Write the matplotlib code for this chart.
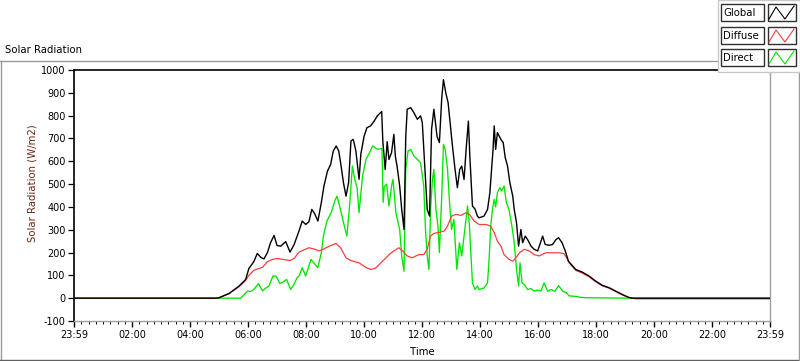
import matplotlib
matplotlib.use("Agg")
import matplotlib.pyplot as plt
from matplotlib.lines import Line2D
from matplotlib.patches import Rectangle
import numpy as np

plt.rcParams['font.family'] = ['DejaVu Sans']

# ---------------- data (hours since 23:59, W/m2) ----------------
global_t = [0.0, 4.9, 5.0, 5.34, 5.69, 5.92, 6.03, 6.2, 6.32, 6.45, 6.55, 6.67, 6.78, 6.9, 7.0, 7.13,
            7.3, 7.45, 7.59, 7.76, 7.87, 7.99, 8.1, 8.2, 8.3, 8.41, 8.53, 8.62, 8.74, 8.85, 8.94,
            9.04, 9.13, 9.21, 9.29, 9.38, 9.47, 9.55, 9.63, 9.72, 9.83, 9.89, 10.0, 10.1, 10.23,
            10.35, 10.46, 10.61, 10.65, 10.73, 10.8, 10.86, 10.95, 11.03, 11.08, 11.14, 11.23,
            11.3, 11.38, 11.44, 11.49, 11.61, 11.72, 11.84, 11.95, 12.01, 12.1, 12.18, 12.26,
            12.33, 12.41, 12.52, 12.6, 12.68, 12.74, 12.82, 12.9, 12.97, 13.05, 13.14, 13.22,
            13.3, 13.37, 13.45, 13.53, 13.6, 13.65, 13.74, 13.83, 13.91, 13.97, 14.14, 14.26,
            14.34, 14.41, 14.45, 14.49, 14.54, 14.6, 14.72, 14.8, 14.87, 14.95, 15.03, 15.13,
            15.18, 15.26, 15.33, 15.41, 15.47, 15.56, 15.64, 15.76, 15.87, 15.99, 16.16, 16.25,
            16.39, 16.5, 16.62, 16.71, 16.83, 16.94, 17.05, 17.3, 17.53, 17.76, 17.99, 18.22,
            18.45, 18.68, 18.91, 19.14, 19.26, 24.0]
global_v = [0, 0, 2, 20, 53, 82, 130, 160, 196, 178, 172, 200, 244, 275, 231, 228,
            248, 202, 235, 295, 338, 323, 335, 389, 370, 338, 420, 492, 557, 586, 645,
            667, 645, 579, 507, 447, 507, 689, 696, 645, 521, 630, 708, 747, 755,
            776, 799, 818, 686, 564, 686, 608, 638, 718, 623, 579, 492,
            389, 301, 708, 828, 835, 813, 784, 799, 770, 564, 389, 360,
            740, 828, 708, 682, 876, 958, 900, 857, 770, 667, 564, 484,
            564, 579, 520, 667, 776, 620, 404, 390, 360, 352, 360, 389,
            462, 586, 652, 755, 652, 726, 696, 682, 616, 579, 506, 447,
            389, 330, 228, 301, 243, 272, 257, 228, 214, 207, 272, 235,
            232, 235, 257, 265, 243, 207, 162, 126, 114, 97, 75, 56,
            46, 31, 16, 3, 0, 0]

diffuse_t = [0.0, 4.9, 5.0, 5.34, 5.69, 5.92, 6.03, 6.2, 6.32, 6.5, 6.67, 6.85, 7.0, 7.2, 7.45,
             7.6, 7.76, 7.9, 8.1, 8.3, 8.45, 8.6, 8.8, 9.04, 9.2, 9.38, 9.5, 9.62, 9.83, 10.07,
             10.24, 10.4, 10.64, 10.87, 11.0, 11.2, 11.35, 11.49, 11.66, 11.89, 12.06, 12.18,
             12.29, 12.41, 12.58, 12.76, 12.88, 13.02, 13.17, 13.34, 13.51, 13.65, 13.8, 13.97,
             14.2, 14.37, 14.49, 14.6, 14.72, 14.83, 15.0, 15.13, 15.24, 15.36, 15.53, 15.7,
             15.87, 16.04, 16.27, 16.5, 16.73, 16.9, 17.02, 17.07, 17.3, 17.53, 17.76, 17.99,
             18.22, 18.45, 18.68, 18.91, 19.14, 19.4, 24.0]
diffuse_v = [0, 0, 2, 20, 50, 78, 100, 122, 128, 135, 160, 170, 174, 170, 165,
             175, 202, 210, 221, 215, 207, 215, 228, 240, 220, 177, 168, 162, 155, 134,
             126, 132, 162, 191, 205, 221, 205, 185, 177, 191, 191, 214,
             272, 284, 288, 294, 316, 360, 367, 363, 374, 365, 338, 323,
             323, 316, 287, 250, 228, 191, 170, 162, 177, 199, 214, 207,
             191, 185, 199, 199, 199, 195, 170, 156, 122, 110, 94, 72,
             54, 44, 29, 14, 2, -3, -3]

direct_t = [0.0, 5.0, 5.75, 5.98, 6.1, 6.2, 6.36, 6.5, 6.62, 6.72, 6.86, 6.97, 7.1, 7.2, 7.33,
            7.47, 7.58, 7.7, 7.76, 7.87, 7.99, 8.17, 8.3, 8.41, 8.53, 8.6, 8.72, 8.87, 8.99,
            9.07, 9.16, 9.28, 9.41, 9.5, 9.6, 9.68, 9.76, 9.83, 9.95, 10.07, 10.19, 10.3,
            10.47, 10.62, 10.66, 10.7, 10.78, 10.86, 10.95, 11.0, 11.1, 11.23, 11.3, 11.38,
            11.44, 11.52, 11.61, 11.72, 11.84, 11.95, 12.06, 12.12, 12.18, 12.24, 12.3, 12.36,
            12.41, 12.48, 12.55, 12.6, 12.68, 12.74, 12.8, 12.88, 12.95, 13.02, 13.1, 13.2,
            13.29, 13.37, 13.49, 13.57, 13.63, 13.69, 13.74, 13.83, 13.91, 13.97, 14.14, 14.26,
            14.32, 14.37, 14.43, 14.49, 14.54, 14.6, 14.68, 14.75, 14.83, 14.91, 15.0, 15.1,
            15.18, 15.26, 15.33, 15.38, 15.45, 15.53, 15.64, 15.76, 15.87, 15.99, 16.1, 16.21,
            16.33, 16.45, 16.58, 16.71, 16.85, 16.97, 17.08, 17.3, 17.5, 17.7, 19.2, 24.0]
direct_v = [0, 0, 0, 31, 30, 38, 64, 32, 45, 53, 97, 97, 64, 70, 82,
            38, 60, 91, 97, 134, 97, 170, 150, 134, 200, 272, 338, 375, 425,
            447, 404, 338, 272, 400, 579, 521, 484, 375, 535, 608, 638, 667,
            652, 656, 420, 488, 500, 404, 492, 521, 375, 301, 185, 118,
            564, 645, 652, 623, 608, 594, 492, 301, 185, 126, 400, 520,
            564, 389, 316, 200, 447, 674, 652, 564, 420, 301, 345, 126,
            243, 185, 316, 404, 330, 185, 67, 38, 53, 38, 45, 67,
            185, 316, 389, 433, 400, 462, 484, 470, 492, 418, 389, 316,
            243, 126, 53, 155, 67, 60, 38, 42, 31, 36, 31, 67,
            31, 38, 30, 55, 31, 24, 10, 8, 3, 2, 0, 0]

tick_hours = [0, 2, 4, 6, 8, 10, 12, 14, 16, 18, 20, 22, 24]
tick_labels = ["23:59", "02:00", "04:00", "06:00", "08:00", "10:00", "12:00",
               "14:00", "16:00", "18:00", "20:00", "22:00", "23:59"]
y_ticks = list(range(-100, 1001, 100))
series_names = ["Global", "Diffuse", "Direct"]
series_colors = ["#000000", "#ff3c3c", "#00e600"]

# ---------------- figure ----------------
W, H = 800, 361
fig = plt.figure(figsize=(W / 100, H / 100), dpi=100)
fig.patch.set_facecolor("white")

def fx(px):
    return px / W

def fy(py):
    return 1 - py / H

ax = fig.add_axes([fx(74), fy(321), fx(770) - fx(74), fy(70) - fy(321)])
ax.plot(direct_t, direct_v, color=series_colors[2], lw=0.95, zorder=2)
ax.plot(diffuse_t, diffuse_v, color=series_colors[1], lw=0.9, zorder=3)
ax.plot(global_t, global_v, color=series_colors[0], lw=1.0, zorder=4)

ax.set_xlim(0, 24)
ax.set_ylim(-100, 1000)
ax.set_yticks(y_ticks)
ax.set_yticklabels([str(v) for v in y_ticks], fontsize=7)
ax.set_xticks(tick_hours)
ax.set_xticklabels(tick_labels, fontsize=7)
ax.set_xticks(np.arange(0, 24.01, 0.25), minor=True)
ax.tick_params(axis='y', direction='out', length=4, width=0.9, pad=2, colors='black')
ax.tick_params(axis='x', which='major', direction='out', length=4, width=1.0, pad=2.5)
ax.tick_params(axis='x', which='minor', direction='out', length=2.5, width=0.7)

for s in ['top', 'left']:
    ax.spines[s].set_color('black')
    ax.spines[s].set_linewidth(1.2)
for s in ['bottom', 'right']:
    ax.spines[s].set_color('#a0a0a0')
    ax.spines[s].set_linewidth(1.0)

ax.set_ylabel("Solar Radiation (W/m2)", fontsize=7.3, color='#6e2814')
ax.yaxis.set_label_coords(-0.052, 0.55)
ax.set_xlabel("Time", fontsize=7.3)
ax.xaxis.set_label_coords(0.5, -0.104)

# title
fig.text(fx(5), fy(50), "Solar Radiation", fontsize=7.3, ha='left', va='center')

# outer frame
gray = '#9a9a9a'
fig.add_artist(Line2D([fx(0), fx(717)], [fy(61), fy(61)], color=gray, lw=1))
fig.add_artist(Line2D([fx(1), fx(1)], [fy(61), fy(360)], color=gray, lw=1))
fig.add_artist(Line2D([fx(0), fx(799)], [fy(360), fy(360)], color='#606060', lw=1))
fig.add_artist(Line2D([fx(798.5), fx(798.5)], [fy(72), fy(360)], color=gray, lw=1))

# legend panel
fig.add_artist(Rectangle((fx(717.5), fy(72)), fx(800) - fx(717.5), fy(0) - fy(72),
                         facecolor='white', edgecolor='#c8c8c8', lw=1, zorder=5))
rows = [(4, 21), (27, 44), (49, 66)]
for name, col, (y0, y1) in zip(series_names, series_colors, rows):
    fig.add_artist(Rectangle((fx(720.5), fy(y1)), fx(764) - fx(720.5), fy(y0) - fy(y1),
                             facecolor='white', edgecolor='#303030', lw=1, zorder=6))
    fig.add_artist(Rectangle((fx(767.5), fy(y1)), fx(796) - fx(767.5), fy(y0) - fy(y1),
                             facecolor='white', edgecolor='#303030', lw=1, zorder=6))
    fig.text(fx(723), fy((y0 + y1) / 2 + 0.5), name, fontsize=7.3, ha='left', va='center', zorder=7)
    zx = [fx(769), fx(776), fx(785), fx(794)]
    zy = [fy(y1 - 2), fy(y0 + 3), fy(y1 - 2), fy(y0 + 2)]
    fig.add_artist(Line2D(zx, zy, color=col, lw=0.8, zorder=7))

fig.savefig("out.png", dpi=100, facecolor=fig.get_facecolor())
